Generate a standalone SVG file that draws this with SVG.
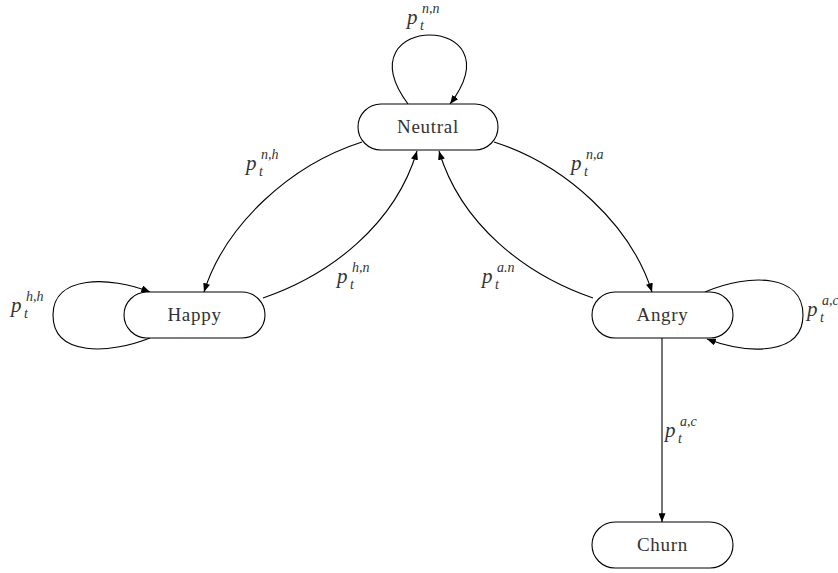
<svg xmlns="http://www.w3.org/2000/svg" width="838" height="573" viewBox="0 0 838 573">
<style>
.node rect{fill:#fff;stroke:#000;stroke-width:1.1}
.node text{font-family:"Liberation Serif","DejaVu Serif",serif;font-size:19px;letter-spacing:0.7px;fill:#333;text-anchor:middle}
.edge{fill:none;stroke:#000;stroke-width:1.1}
.lbl{font-family:"Liberation Serif","DejaVu Serif",serif;font-style:italic;fill:#333}
.p{font-size:21px}
.s{font-size:14px}
</style>
<defs>
<marker id="arr" viewBox="0 0 10 8" refX="10" refY="4" markerWidth="9" markerHeight="7" markerUnits="userSpaceOnUse" orient="auto">
<path d="M0,0 L10,4 L0,8 z" fill="#000"/>
</marker>
</defs>
<rect width="838" height="573" fill="#fff"/>
<g id="connectors">
<path class="edge" d="M408,104 C340,12 520,12 450,104" marker-end="url(#arr)"/>
<path class="edge" d="M362,142 C290,165 225,225 204,292" marker-end="url(#arr)"/>
<path class="edge" d="M263,298 C330,275 395,225 417,151" marker-end="url(#arr)"/>
<path class="edge" d="M494,142 C566,165 631,225 652,292" marker-end="url(#arr)"/>
<path class="edge" d="M593,298 C526,275 461,225 439,151" marker-end="url(#arr)"/>
<path class="edge" d="M150,338 C110,354 53,357 53,315 C53,275 110,276 150,292" marker-end="url(#arr)"/>
<path class="edge" d="M705,292 C750,273 803,274 803,315 C803,355 750,355 707,339" marker-end="url(#arr)"/>
<path class="edge" d="M662,338 L662,522" marker-end="url(#arr)"/>
</g>
<g id="labels">
<text class="lbl"><tspan class="p" x="407" y="24">p</tspan><tspan class="s" x="420" y="30">t</tspan><tspan class="s" x="422" y="13">n,n</tspan></text>
<text class="lbl"><tspan class="p" x="246" y="170">p</tspan><tspan class="s" x="259" y="176">t</tspan><tspan class="s" x="261" y="159">n,h</tspan></text>
<text class="lbl"><tspan class="p" x="571" y="170">p</tspan><tspan class="s" x="584" y="176">t</tspan><tspan class="s" x="586" y="159">n,a</tspan></text>
<text class="lbl"><tspan class="p" x="337" y="283">p</tspan><tspan class="s" x="350" y="289">t</tspan><tspan class="s" x="352" y="272">h,n</tspan></text>
<text class="lbl"><tspan class="p" x="482" y="283">p</tspan><tspan class="s" x="495" y="289">t</tspan><tspan class="s" x="497" y="272">a.n</tspan></text>
<text class="lbl"><tspan class="p" x="11" y="312">p</tspan><tspan class="s" x="24" y="318">t</tspan><tspan class="s" x="26" y="301">h,h</tspan></text>
<text class="lbl"><tspan class="p" x="807" y="316">p</tspan><tspan class="s" x="820" y="322">t</tspan><tspan class="s" x="822" y="305">a,c</tspan></text>
<text class="lbl"><tspan class="p" x="665" y="437">p</tspan><tspan class="s" x="678" y="443">t</tspan><tspan class="s" x="680" y="426">a,c</tspan></text>
</g>
<g id="neutral" class="node"><rect x="358" y="104" width="140" height="46" rx="23" ry="23"/><text x="428" y="133">Neutral</text></g>
<g id="happy" class="node"><rect x="124" y="292" width="141" height="46" rx="23" ry="23"/><text x="194.5" y="321">Happy</text></g>
<g id="angry" class="node"><rect x="592" y="292" width="141" height="46" rx="23" ry="23"/><text x="662.5" y="321">Angry</text></g>
<g id="churn" class="node"><rect x="592" y="522" width="141" height="46" rx="23" ry="23"/><text x="662.5" y="551">Churn</text></g>
</svg>
